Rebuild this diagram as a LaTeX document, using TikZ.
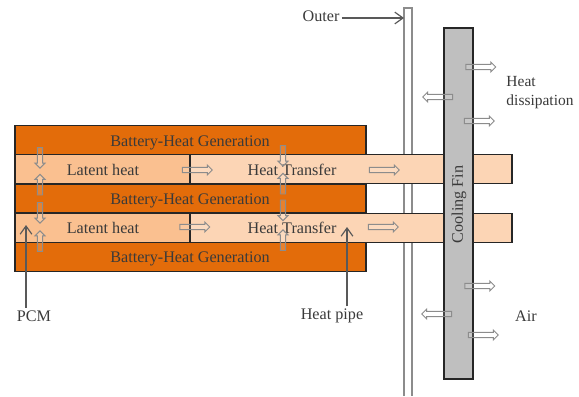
\documentclass[tikz,border=0pt]{standalone}
\usepackage{fontspec}
\setmainfont{Liberation Serif}
\usetikzlibrary{arrows.meta, positioning, shapes.arrows}
\definecolor{battcolor}{HTML}{E36C0A}
\definecolor{pcmcolor}{HTML}{FAC090}
\definecolor{pipecolor}{HTML}{FCD5B5}
\definecolor{fincolor}{HTML}{BFBFBF}
\definecolor{labelcolor}{HTML}{3A3A3A}
\tikzset{
  layer/.style={draw=black!85, line width=1pt, inner sep=0pt, outer sep=0pt},
  batt/.style={layer, fill=battcolor, minimum width=10.53cm, minimum height=0.87cm},
  pcm/.style={layer, fill=pcmcolor, minimum width=5.25cm, minimum height=0.885cm},
  pipe/.style={layer, fill=pipecolor, minimum width=9.66cm, minimum height=0.885cm},
  lbl/.style={font=\fontsize{13.8}{16}\selectfont, text=labelcolor, inner sep=2pt},
  flow/.style={single arrow, draw=black!45, line width=0.8pt, fill=white, fill opacity=0.15, inner sep=0.065cm,
    single arrow head extend=0.07cm, single arrow head indent=0cm},
  hflow/.style={flow, minimum height=0.9cm},
  vflow/.style={flow, minimum height=0.62cm},
  callout/.style={-{Straight Barb[length=7pt,width=10pt]}, draw=black!65, line width=1pt}
}
\begin{document}
\begin{tikzpicture}
\useasboundingbox (0,0) rectangle (17.37,11.88);

% outer wall, open at the bottom
\draw[black!45, line width=0.9pt] (12.12,0) -- (12.12,11.64) -- (12.36,11.64) -- (12.36,0);

% heat pipes and PCM
\node[pipe] (pipeA) at (10.53,6.81) {};
\node[pipe] (pipeB) at (10.53,5.04) {};
\node[pcm] (pcmA) at (3.075,6.81) {};
\node[pcm] (pcmB) at (3.075,5.04) {};

% battery layers
\node[batt] (battA) at (5.715,7.68) {};
\node[batt] (battB) at (5.715,5.925) {};
\node[batt] (battC) at (5.715,4.17) {};
\node[lbl] (genA) at (5.7,7.6) {Battery-Heat Generation};
\node[lbl] (genB) at (5.7,5.86) {Battery-Heat Generation};
\node[lbl] (genC) at (5.7,4.1) {Battery-Heat Generation};

\node[lbl] (latentA) at (3.09,6.78) {Latent heat};
\node[lbl] (latentB) at (3.09,5.04) {Latent heat};
\node[lbl] (transferA) at (8.76,6.78) {Heat Transfer};
\node[lbl] (transferB) at (8.76,5.04) {Heat Transfer};

% cooling fin
\node[layer, fill=fincolor, minimum width=0.87cm, minimum height=10.53cm] (fin) at (13.755,5.775) {};
\node[lbl, rotate=90] (finlabel) at (13.77,5.745) {Cooling Fin};

% heat flow between the layers
\node[vflow, rotate=-90] (flowA) at (1.2,7.185) {};
\node[vflow, rotate=90] (flowB) at (1.2,6.30) {};
\node[vflow, rotate=-90] (flowC) at (1.2,5.535) {};
\node[vflow, rotate=90] (flowD) at (1.2,4.605) {};
\node[vflow, rotate=-90] (flowE) at (8.49,7.245) {};
\node[vflow, rotate=90] (flowF) at (8.49,6.33) {};
\node[vflow, rotate=-90] (flowG) at (8.49,5.61) {};
\node[vflow, rotate=90] (flowH) at (8.49,4.635) {};

% heat flow along the pipes
\node[hflow] (flowI) at (5.88,6.78) {};
\node[hflow] (flowJ) at (5.805,5.07) {};
\node[hflow] (flowK) at (11.49,6.78) {};
\node[hflow] (flowL) at (11.46,5.07) {};

% heat flow off the fin
\node[hflow] (flowM) at (14.385,9.87) {};
\node[hflow, rotate=180] (flowN) at (13.17,8.97) {};
\node[hflow] (flowO) at (14.34,8.25) {};
\node[hflow] (flowP) at (14.355,3.30) {};
\node[hflow, rotate=180] (flowQ) at (13.14,2.46) {};
\node[hflow] (flowR) at (14.46,1.83) {};

% labels and their arrows
\node[lbl] (outer) at (9.63,11.4) {Outer};
\node[lbl] (pcmlabel) at (1.02,2.4) {PCM};
\node[lbl] (pipelabel) at (9.96,2.4) {Heat pipe};
\node[lbl] (air) at (15.78,2.4) {Air};
\node[lbl, align=left] (dissipation) at (16.2,9.105) {\fontsize{13.2}{16}\selectfont Heat\\\fontsize{13.2}{16}\selectfont dissipation};

\coordinate (outertip) at (12.12,11.34);
\coordinate (pcmtip) at (0.78,5.13);
\coordinate (pipetip) at (10.41,5.07);
\draw[callout] (outer.east |- outertip) -- (outertip);
\draw[callout] (pcmlabel.north -| pcmtip) -- (pcmtip);
\draw[callout] (pipelabel.north -| pipetip) -- (pipetip);
\end{tikzpicture}
\end{document}
